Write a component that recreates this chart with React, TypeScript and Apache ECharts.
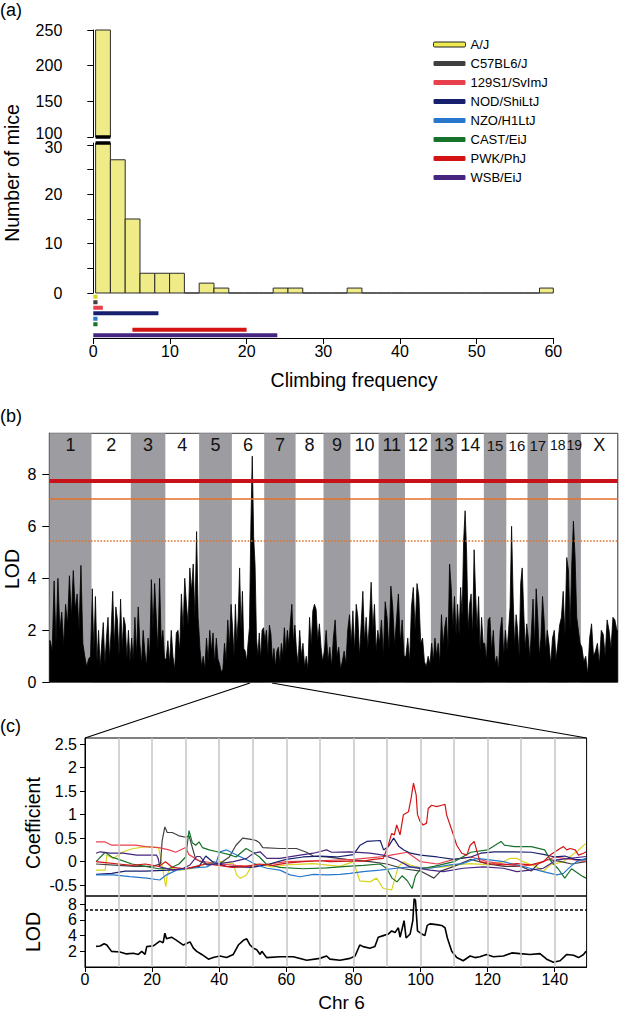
import React, { useEffect, useRef } from "react";
import * as echarts from "echarts";

const FONT = "'Liberation Sans', Arial, Helvetica, sans-serif";

// ---------- Panel (a) ----------
const strains = ["A/J", "C57BL6/J", "129S1/SvImJ", "NOD/ShiLtJ", "NZO/H1LtJ", "CAST/EiJ", "PWK/PhJ", "WSB/EiJ"];
const strainColors = ["#d9d51e", "#404040", "#e8414e", "#17206e", "#2777cc", "#17722b", "#d41414", "#46257f"];
const strainRangeMin = [0, 0, 0, 0, 0, 0, 5.1, 0];
const strainRangeMax = [0.55, 0.55, 1.25, 8.5, 0.55, 0.55, 20, 24];

const histFirstEdge = 0.3;
const histBinWidth = 1.93;
const histCounts = [250, 27, 15, 4, 4, 4, 0, 2, 1, 0, 0, 0, 1, 1, 0, 0, 0, 1, 0, 0, 0, 0, 0, 0, 0, 0, 0, 0, 0, 0, 1];
const climbTicks = [0, 10, 20, 30, 40, 50, 60];
const miceUpperTicks = [100, 150, 200, 250];
const miceLowerLabels = [0, 10, 20, 30];
const miceLowerTicks = [0, 5, 10, 15, 20, 25, 30];
const miceLowerMax = 30.4;

// ---------- Panel (b) ----------
const chrNames = ["1", "2", "3", "4", "5", "6", "7", "8", "9", "10", "11", "12", "13", "14", "15", "16", "17", "18", "19", "X"];
const chrLengths = [195.5, 182.1, 160.0, 156.5, 151.8, 149.7, 145.4, 129.4, 124.6, 130.7, 122.1, 120.1, 120.4, 124.9, 104.0, 98.2, 95.3, 90.7, 61.4, 171.0];
const lodByChr = [
  [1.6, 1.2, 3.9, 1.5, 4.0, 2.0, 2.7, 1.4, 3.0, 2.2, 4.1, 2.5, 4.3, 2.8, 3.4, 2.0, 4.5, 1.5, 1.0, 0.6, 0.9, 1.0],
  [3.6, 1.2, 3.3, 0.8, 2.0, 0.6, 1.5, 2.3, 0.7, 1.7, 2.5, 0.9, 2.0, 3.5, 1.4, 2.9, 2.4, 1.0, 3.2, 1.3, 2.5, 2.2, 0.9, 2.0, 0.8],
  [1.7, 0.8, 2.5, 1.0, 2.9, 1.5, 0.7, 2.0, 1.2, 0.6, 1.7, 1.0, 3.95, 2.0, 3.8, 2.5, 1.2, 4.0, 1.5, 2.0, 0.9],
  [0.9, 1.6, 0.7, 2.0, 1.0, 0.5, 1.9, 2.0, 1.2, 3.4, 2.0, 4.0, 3.0, 2.2, 4.4, 3.5, 4.55, 2.5, 5.8, 2.5],
  [1.3, 0.6, 1.0, 0.5, 1.7, 0.8, 2.0, 1.2, 1.9, 0.7, 1.7, 0.9, 0.7, 0.4, 0.5, 1.5, 0.8, 2.4, 1.3, 3.0],
  [2.1, 1.0, 3.0, 1.5, 2.5, 4.4, 2.0, 3.5, 1.3, 1.2, 0.8, 1.5, 2.1, 6.0, 8.7, 5.6, 4.5, 1.7, 1.0, 1.9, 0.9, 2.0, 2.1],
  [1.6, 2.0, 1.0, 2.2, 1.85, 0.8, 1.3, 0.6, 1.2, 1.35, 0.7, 1.5, 1.0, 2.1, 1.2, 2.0, 1.4, 2.3, 3.0, 1.5, 2.2],
  [1.3, 0.7, 2.0, 1.0, 1.5, 0.6, 1.0, 0.5, 2.5, 1.4, 2.75, 3.0, 2.8, 1.6, 2.25, 1.35, 0.8],
  [1.2, 2.0, 0.8, 1.35, 0.6, 1.7, 2.4, 1.0, 1.35, 0.5, 0.8, 1.2, 0.7, 2.0, 2.6],
  [1.5, 2.75, 1.2, 3.0, 2.5, 1.0, 2.25, 3.5, 1.6, 2.5, 1.3, 2.4, 3.85, 2.0, 3.0, 1.2, 2.0],
  [1.5, 2.4, 1.0, 3.1, 2.5, 1.2, 3.7, 2.9, 1.4, 2.4, 3.4, 1.5, 2.4, 1.0],
  [1.0, 1.7, 0.8, 2.9, 3.65, 2.0, 3.8, 3.3, 1.5, 1.7, 0.8, 0.6, 1.0, 0.7],
  [1.5, 0.8, 1.7, 1.0, 1.5, 0.7, 2.6, 1.4, 2.1, 2.5, 1.2, 4.55, 3.65, 2.0, 3.3, 1.8],
  [3.0, 1.8, 3.65, 2.5, 5.45, 6.6, 5.0, 2.0, 3.0, 3.4, 1.8, 5.1, 3.4, 2.0, 3.3, 1.2, 2.5, 1.5],
  [1.5, 0.8, 2.4, 2.5, 1.2, 2.0, 0.7, 1.0, 0.5, 2.0, 2.5, 1.0, 2.0],
  [1.2, 2.0, 2.9, 6.0, 3.3, 1.4, 2.6, 2.0, 1.0, 3.8, 4.4, 2.75, 1.3, 2.25],
  [1.7, 0.9, 2.0, 3.2, 1.4, 3.6, 2.5, 1.0, 1.7, 3.3, 2.4, 1.2, 2.0],
  [1.5, 0.7, 1.7, 2.0, 0.9, 1.5, 2.2, 2.5, 3.5, 1.8, 4.8],
  [4.3, 2.0, 4.55, 6.2, 4.8, 2.5, 2.0, 1.5],
  [1.35, 0.8, 1.0, 0.3, 1.7, 2.25, 1.0, 1.2, 1.5, 0.7, 2.0, 1.85, 1.0, 2.4, 2.0, 1.3, 2.5, 2.4, 2.0],
];
const genomeLodTicks = [0, 2, 4, 6, 8];
const genomeLodMax = 9.58;
const thresholdHigh = 7.74;
const thresholdMid = 7.06;
const thresholdLow = 5.45;

// ---------- Panel (c) ----------
const chr6Max = 149.5;
const chr6Ticks = [0, 20, 40, 60, 80, 100, 120, 140];
const chr6GridLines = [10, 20, 30, 40, 50, 60, 70, 80, 90, 100, 110, 120, 130, 140];
const coefTicks = [-0.5, 0, 0.5, 1, 1.5, 2, 2.5];
const chr6LodTicks = [2, 4, 6, 8];
const chr6LodLabelsA = [2, 6];
const chr6LodLabelsB = [4, 8];
const chr6LodMax = 9.05;
const chr6LodThreshold = 7.24;

const coefAJ = [[3.3,-0.18],[6,-0.18],[6.5,0.14],[8.4,0.07],[11.4,0.21],[14.4,0.28],[18.4,0.32],[21.9,0.3],[22.8,0.0],[23.8,-0.43],[24.1,-0.53],[24.5,-0.28],[25.3,-0.14],[28.3,-0.18],[32.3,-0.14],[36.3,-0.04],[40.2,0.0],[44.2,-0.04],[45.2,-0.28],[46.2,-0.35],[47.2,-0.32],[48.2,-0.28],[49.2,-0.14],[50.2,-0.04],[52.2,-0.07],[56.1,-0.11],[60.1,-0.07],[68.1,-0.04],[76,-0.1],[80,0.0],[81,-0.21],[81.9,-0.41],[84.9,-0.43],[86.9,-0.35],[88.9,-0.57],[91.4,-0.6],[92.4,-0.35],[93.4,-0.11],[94.9,0.0],[96.9,-0.07],[100.8,-0.14],[106.8,-0.11],[110.8,-0.07],[114.8,-0.04],[120.7,-0.07],[124.7,0.0],[126.7,0.07],[128.7,0.07],[130.6,0.0],[134.6,-0.11],[136.6,-0.21],[138.6,-0.07],[142.6,0.0],[146.5,0.21],[149.3,0.39]];
const coefC57 = [[3.3,-0.05],[10,-0.08],[15,-0.1],[20,-0.1],[22.5,-0.05],[23,0.45],[23.8,0.74],[24.5,0.62],[26,0.62],[28,0.55],[30,0.52],[31,0.55],[32,0.3],[33,0.05],[36,-0.05],[40,-0.05],[43,0.1],[45,0.35],[47,0.5],[49,0.48],[51,0.45],[52,0.4],[53,0.3],[58,0.28],[63,0.28],[66,0.2],[68,0.12],[72,0.1],[78,0.05],[85,0.0],[90,-0.05],[95,-0.15],[100,-0.2],[104,-0.35],[106,-0.2],[110,-0.1],[115,0.05],[120,-0.05],[125,-0.1],[130,-0.1],[133,-0.2],[135,-0.05],[138,0.05],[142,0.0],[145,-0.05],[149.3,0.0]];
const coef129 = [[3.3,0.42],[6,0.42],[8,0.35],[15,0.35],[18,0.32],[22,0.3],[25,0.25],[27,0.2],[30,0.3],[31,0.15],[34,0.02],[40,-0.05],[45,-0.08],[50,-0.1],[55,-0.05],[60,0.0],[70,0.02],[80,0.05],[88,0.1],[92,0.15],[96,0.2],[98,0.1],[100,0.0],[105,-0.05],[110,0.05],[115,0.1],[120,0.0],[125,-0.05],[130,-0.1],[135,-0.05],[140,0.1],[145,0.05],[149.3,0.0]];
const coefNOD = [[3.3,-0.27],[8,-0.25],[12,-0.2],[18,-0.2],[25,-0.18],[30,-0.15],[34,-0.1],[36,0.12],[38,0.0],[42,-0.1],[50,-0.12],[55,-0.05],[60,0.05],[65,0.1],[70,0.12],[75,0.1],[80,0.15],[82,0.35],[84,0.43],[88,0.45],[89,0.25],[90.5,0.33],[92,0.5],[93.5,0.33],[95,0.25],[97,0.18],[100,0.14],[105,0.1],[110,0.05],[115,0.1],[118,0.18],[122,0.21],[128,0.21],[133,0.2],[137,0.15],[140,0.1],[143,0.12],[146,0.05],[149.3,0.04]];
const coefNZO = [[3.3,-0.28],[8.4,-0.28],[13.4,-0.32],[18.4,-0.35],[22.3,-0.39],[24.3,-0.28],[27.3,-0.18],[31.3,-0.14],[36.3,-0.11],[39.2,0.0],[40.2,0.21],[42.2,0.25],[45.2,0.14],[48.2,0.04],[51.2,-0.07],[54.2,-0.14],[58.1,-0.18],[61.1,-0.28],[64.1,-0.32],[68.1,-0.27],[72,-0.28],[76,-0.27],[79,-0.25],[82.9,-0.21],[87.9,-0.18],[92.9,-0.14],[96.9,-0.11],[102.8,-0.14],[108.8,-0.07],[112.7,-0.04],[116.7,0.07],[120.7,0.04],[124.7,0.0],[128.7,-0.07],[132.6,-0.14],[136.6,-0.21],[140.6,-0.28],[142.6,-0.25],[144.6,-0.11],[146.5,0.0],[149.3,0.07]];
const coefCAST = [[3.3,0.0],[6,0.2],[8,0.1],[10,0.05],[14,-0.05],[18,-0.1],[22,-0.15],[25,-0.15],[28,-0.05],[30,0.1],[31,0.66],[32,0.4],[33,0.35],[34,0.42],[35,0.3],[37,0.25],[40,0.2],[43,0.15],[45,0.1],[48,0.28],[50,0.2],[52,0.1],[54,-0.05],[58,-0.12],[65,-0.15],[72,-0.13],[78,-0.1],[83,-0.08],[88,-0.05],[90,-0.15],[91.5,-0.35],[93,-0.43],[94.5,-0.3],[96,-0.4],[97.5,-0.57],[98.5,-0.3],[100,-0.15],[104,-0.1],[110,0.0],[115,0.2],[120,0.25],[124,0.43],[125,0.35],[128,0.32],[133,0.32],[137,0.25],[139,0.0],[141,-0.15],[143,-0.35],[145,-0.15],[148,-0.3],[149.3,-0.35]];
const coefPWK = [[3.3,0.0],[6,-0.02],[10,-0.05],[14,-0.08],[18,-0.05],[22,-0.1],[24,0.0],[26,-0.12],[30,-0.15],[33,-0.1],[36,-0.05],[40,-0.08],[44,-0.12],[48,-0.1],[52,-0.05],[56,-0.08],[60,-0.03],[65,0.0],[70,0.02],[73,0.0],[79,0.01],[82.9,0.01],[86,0.05],[88.9,0.07],[90.4,0.35],[91.4,0.6],[92.2,0.57],[92.9,0.78],[93.9,0.57],[94.9,1.0],[96.4,1.06],[97.2,1.35],[97.9,1.67],[98.7,1.42],[99.1,1.0],[99.9,0.85],[100.8,0.78],[101.8,0.82],[102.3,1.13],[103.3,1.2],[104.8,1.17],[106.3,1.2],[107.3,1.22],[107.8,0.99],[108.8,0.78],[109.8,0.57],[110.8,0.35],[112.3,0.18],[113.8,0.14],[114.8,0.35],[116.0,0.43],[116.7,0.25],[117.7,0.0],[120.7,-0.04],[124.7,-0.07],[128.7,-0.04],[132.6,-0.07],[136.6,0.0],[138.6,0.14],[141.6,0.28],[142.6,0.32],[143.6,0.25],[144.6,0.28],[146.1,0.25],[147.1,0.14],[148.6,0.18],[149.3,0.21]];
const coefWSB = [[3.3,0.18],[4.5,0.21],[7.4,0.18],[11.4,0.18],[15.4,0.14],[18.4,0.14],[21.3,0.14],[21.8,0.07],[22.3,-0.11],[26.3,-0.18],[29.3,-0.14],[31.3,-0.07],[33.3,0.11],[34.3,0.11],[36.3,-0.07],[40.2,-0.04],[44.2,0.0],[48.2,0.07],[50.2,0.18],[52.2,0.21],[54.2,0.07],[58.1,0.07],[64.1,0.14],[68.1,0.18],[72,0.25],[73.5,0.2],[79,0.21],[84.9,0.18],[88.9,0.14],[92.9,0.04],[96.9,-0.11],[102.8,-0.18],[106.8,-0.21],[112.7,-0.14],[118.7,-0.11],[124.7,-0.14],[128.7,-0.21],[132.6,-0.18],[136.6,-0.14],[140.6,0.04],[144.6,0.07],[149.3,0.11]];
const coefByStrain = [coefAJ, coefC57, coef129, coefNOD, coefNZO, coefCAST, coefPWK, coefWSB];

const lodChr6 = [[3.3,2.63],[4.5,2.67],[5.7,2.97],[6.5,2.8],[7.9,1.99],[10.4,1.92],[12.4,1.67],[14.4,1.75],[15.9,1.6],[16.9,2.0],[17.9,1.6],[18.4,2.6],[20.4,2.7],[22.3,3.3],[23.3,3.1],[23.8,4.3],[24.3,3.6],[25.8,3.8],[27.3,3.4],[29.3,2.8],[30.3,3.0],[31.3,3.2],[32.3,2.4],[33.3,2.0],[34.8,1.6],[36.8,1.0],[38.2,1.2],[40.2,1.4],[42.2,1.2],[44.2,1.6],[45.7,2.8],[47.2,3.4],[48.2,3.6],[49.2,2.8],[50.2,2.4],[51.2,2.2],[52.2,1.6],[52.7,2.0],[54.1,1.2],[58.1,1.3],[62.1,1.3],[66.1,0.86],[70.0,1.1],[72.0,1.4],[73.0,1.0],[76.0,0.86],[79.0,1.1],[80.5,1.4],[81.9,2.8],[82.9,2.6],[84.9,2.4],[86.4,2.6],[87.4,3.8],[88.9,4.0],[90.4,4.2],[91.4,4.6],[92.4,4.4],[93.4,5.0],[93.9,3.8],[95.1,5.9],[95.7,3.7],[96.9,4.2],[97.7,5.9],[98.1,8.7],[98.5,8.5],[99.1,4.6],[100.4,4.2],[101.3,4.0],[102.0,5.3],[102.8,5.5],[104.8,5.4],[106.3,5.3],[107.3,5.0],[108.0,3.7],[109.3,2.0],[110.8,1.2],[112.7,0.8],[114.8,1.4],[116.2,1.2],[117.7,1.3],[119.7,1.6],[121.7,1.3],[124.7,1.4],[127.2,1.8],[129.6,1.7],[132.6,1.6],[135.6,1.7],[137.6,1.0],[139.6,0.6],[141.6,0.8],[143.6,1.6],[145.6,1.5],[147.1,1.2],[148.6,1.6],[149.3,2.0]];

function buildOption() {
  const histData = histCounts.map((c, i) => [histFirstEdge + i * histBinWidth, histFirstEdge + (i + 1) * histBinWidth, c]);
  const histRender = (params: any, api: any) => {
    const p0 = api.coord([api.value(0), api.value(2)]);
    const p1 = api.coord([api.value(1), 0]);
    const cs = params.coordSys;
    const rect = echarts.graphic.clipRectByRect(
      { x: p0[0], y: p0[1], width: p1[0] - p0[0], height: p1[1] - p0[1] },
      { x: cs.x, y: cs.y, width: cs.width, height: cs.height }
    );
    if (!rect) return null;
    return { type: "rect", shape: rect, style: { fill: "#efeb87", stroke: "#2b2b2b", lineWidth: 1 } };
  };

  const chrStarts: number[] = [];
  let acc = 0;
  chrLengths.forEach((l) => { chrStarts.push(acc); acc += l; });
  const genomeTotal = acc;
  const lodPoints: number[][] = [[0, lodByChr[0][0]]];
  lodByChr.forEach((vals, i) => {
    vals.forEach((v, j) => lodPoints.push([chrStarts[i] + ((j + 0.5) * chrLengths[i]) / vals.length, v]));
  });
  const lastChr = lodByChr[lodByChr.length - 1];
  lodPoints.push([genomeTotal, lastChr[lastChr.length - 1]]);
  const bandData = chrNames.map((_, i) => [chrStarts[i], chrStarts[i] + chrLengths[i], i]);

  const bandRender = (params: any, api: any) => {
    const idx = api.value(2);
    const cs = params.coordSys;
    const pS = api.coord([api.value(0), 0]);
    const pE = api.coord([api.value(1), 0]);
    const children: any[] = [];
    if (idx % 2 === 0) {
      children.push({ type: "rect", shape: { x: pS[0], y: cs.y, width: pE[0] - pS[0], height: cs.height }, style: { fill: "#9d9ca0" } });
    }
    const fs = idx >= 14 && idx <= 16 ? 15 : idx >= 17 && idx <= 18 ? 14 : 18;
    children.push({
      type: "text",
      style: {
        text: chrNames[idx], x: (pS[0] + pE[0]) / 2, y: cs.y + 12, align: "center", verticalAlign: "middle",
        fontSize: fs, fill: "#111", fontFamily: FONT,
      },
    });
    return { type: "group", children };
  };

  const axisCommon = { axisLine: { show: true, lineStyle: { color: "#000", width: 1 } }, splitLine: { show: false } };
  const labelStyle = { color: "#000", fontSize: 16, fontFamily: FONT, hideOverlap: false, lineHeight: 13 };

  const grids = [
    { left: 93.3, top: 30, width: 460, height: 107 },
    { left: 93.3, top: 143, width: 460, height: 150 },
    { left: 93.3, top: 294, width: 460, height: 44 },
    { left: 49.3, top: 433.3, width: 568.5, height: 249, show: true, borderColor: "#333", borderWidth: 1 },
    { left: 85, top: 738, width: 501.6, height: 158, show: true, borderColor: "#000", borderWidth: 1 },
    { left: 85, top: 896, width: 501.6, height: 71, show: true, borderColor: "#000", borderWidth: 1 },
  ];

  const xAxes: any[] = [
    { gridIndex: 0, type: "value", min: 0, max: 60, show: false },
    { gridIndex: 1, type: "value", min: 0, max: 60, show: false },
    {
      gridIndex: 2, type: "value", min: 0, max: 60, ...axisCommon,
      axisTick: { show: true, length: 6, lineStyle: { color: "#000" }, customValues: climbTicks },
      axisLabel: { ...labelStyle, margin: 7, customValues: climbTicks },
    },
    { gridIndex: 3, type: "value", min: 0, max: genomeTotal, show: false },
    { gridIndex: 4, type: "value", min: 0, max: chr6Max, show: false },
    {
      gridIndex: 5, type: "value", min: 0, max: chr6Max, ...axisCommon,
      axisTick: { show: true, length: 5, lineStyle: { color: "#000" }, customValues: chr6Ticks },
      axisLabel: { ...labelStyle, margin: 6, customValues: chr6Ticks },
    },
  ];

  const yAxes: any[] = [
    {
      gridIndex: 0, type: "value", min: 100, max: 250, offset: 16, ...axisCommon,
      axisTick: { show: true, length: 6, lineStyle: { color: "#000" }, customValues: miceUpperTicks },
      axisLabel: {
        ...labelStyle, margin: 15, customValues: miceUpperTicks,
        formatter: (v: number) => (v === 100 ? "{lo|100}" : String(v)),
        rich: { lo: { fontSize: 16, fontFamily: FONT, color: "#000", padding: [0, 0, 8, 0] } },
      },
    },
    {
      gridIndex: 1, type: "value", min: 0, max: miceLowerMax, offset: 16, ...axisCommon,
      axisTick: { show: true, length: 6, lineStyle: { color: "#000" }, customValues: miceLowerTicks },
      axisLabel: {
        ...labelStyle, margin: 15, customValues: miceLowerLabels,
        formatter: (v: number) => (v === 30 ? "{hi|30}" : String(v)),
        rich: { hi: { fontSize: 16, fontFamily: FONT, color: "#000", padding: [6, 0, 0, 0] } },
      },
    },
    { gridIndex: 2, type: "category", data: strains, inverse: true, show: false, boundaryGap: true },
    {
      gridIndex: 3, type: "value", min: 0, max: genomeLodMax, ...axisCommon,
      axisTick: { show: true, length: 7, lineStyle: { color: "#000" }, customValues: genomeLodTicks },
      axisLabel: { ...labelStyle, margin: 13, customValues: genomeLodTicks },
    },
    {
      gridIndex: 4, type: "value", min: -0.73, max: 2.63, ...axisCommon,
      axisTick: { show: true, length: 5, lineStyle: { color: "#000" }, customValues: coefTicks },
      axisLabel: { ...labelStyle, margin: 8, customValues: coefTicks },
    },
    {
      gridIndex: 5, type: "value", min: 0, max: chr6LodMax, position: "left", ...axisCommon,
      axisTick: { show: true, length: 5, lineStyle: { color: "#000" }, customValues: chr6LodTicks },
      axisLabel: { ...labelStyle, margin: 8, customValues: chr6LodLabelsA },
    },
    {
      gridIndex: 5, type: "value", min: 0, max: chr6LodMax, position: "left", offset: 0, ...axisCommon,
      axisTick: { show: false },
      axisLabel: { ...labelStyle, margin: 8, customValues: chr6LodLabelsB },
    },
  ];

  const series: any[] = [
    { type: "custom", xAxisIndex: 0, yAxisIndex: 0, data: histData, renderItem: histRender, z: 2 },
    { type: "custom", xAxisIndex: 1, yAxisIndex: 1, data: histData, renderItem: histRender, z: 2 },
    {
      type: "line", xAxisIndex: 0, yAxisIndex: 0, clip: false, symbol: "none", z: 4,
      data: [[histData[0][0], 100], [histData[0][1], 100]], lineStyle: { color: "#000", width: 3.5 },
    },
    {
      type: "line", xAxisIndex: 1, yAxisIndex: 1, clip: false, symbol: "none", z: 4,
      data: [[histData[0][0], miceLowerMax], [histData[0][1], miceLowerMax]], lineStyle: { color: "#000", width: 3.5 },
    },
  ];

  strains.forEach((name, i) => {
    series.push({
      type: "line", name, xAxisIndex: 2, yAxisIndex: 2, symbol: "none", color: strainColors[i],
      data: [[strainRangeMin[i], name], [strainRangeMax[i], name]],
      lineStyle: { width: 4, color: strainColors[i], cap: "butt" },
    });
  });

  series.push({ type: "custom", xAxisIndex: 3, yAxisIndex: 3, data: bandData, renderItem: bandRender, z: 1, silent: true });
  series.push({
    type: "line", xAxisIndex: 3, yAxisIndex: 3, symbol: "none", z: 3, data: lodPoints,
    lineStyle: { color: "#000", width: 0.8 }, areaStyle: { color: "#000", opacity: 1 },
    markLine: {
      symbol: ["none", "none"], silent: true, label: { show: false },
      data: [
        { yAxis: thresholdHigh, lineStyle: { color: "#c8121a", width: 4, type: "solid" } },
        { yAxis: thresholdMid, lineStyle: { color: "#e5712a", width: 1.6, type: "solid" } },
        { yAxis: thresholdLow, lineStyle: { color: "#e0742a", width: 1.6, type: "dotted" } },
      ],
    },
  });

  [4, 5].forEach((gi) => {
    series.push({
      type: "line", xAxisIndex: gi, yAxisIndex: gi, symbol: "none", z: 1, data: [[0, gi === 4 ? 0 : 1]],
      lineStyle: { opacity: 0 },
      markLine: {
        symbol: ["none", "none"], silent: true, label: { show: false },
        lineStyle: { color: "#c6c6c6", width: 1.5, type: "solid" },
        data: chr6GridLines.map((v) => ({ xAxis: v })),
      },
    });
  });

  strains.forEach((name, i) => {
    series.push({
      type: "line", name, xAxisIndex: 4, yAxisIndex: 4, symbol: "none", z: 3, color: strainColors[i],
      data: coefByStrain[i], lineStyle: { width: 1.2, color: strainColors[i] },
    });
  });

  series.push({
    type: "line", xAxisIndex: 5, yAxisIndex: 5, symbol: "none", z: 3, data: lodChr6,
    lineStyle: { width: 1.6, color: "#000" },
    markLine: {
      symbol: ["none", "none"], silent: true, label: { show: false },
      data: [{ yAxis: chr6LodThreshold, lineStyle: { color: "#000", width: 1.6, type: [3, 2] } }],
    },
  });
  series.push({ type: "line", xAxisIndex: 5, yAxisIndex: 6, symbol: "none", data: [], lineStyle: { opacity: 0 } });

  const txt = (text: string, x: number, y: number, fontSize: number, rotate = false, align = "center") => ({
    type: "text", x, y, rotation: rotate ? Math.PI / 2 : 0,
    style: { text, x: 0, y: 0, align, verticalAlign: "middle", fontSize, fill: "#000", fontFamily: FONT },
  });

  const graphic: any[] = [
    txt("(a)", 0, 10, 18, false, "left"),
    txt("Number of mice", 12, 173, 19.5, true),
    txt("Climbing frequency", 354, 380, 19.5),
    txt("(b)", 0, 416, 18, false, "left"),
    txt("LOD", 12, 569, 19.5, true),
    txt("(c)", 0, 726, 18, false, "left"),
    txt("Coefficient", 33, 823, 19.5, true),
    txt("LOD", 33, 932, 19.5, true),
    txt("Chr 6", 341.5, 1002, 19),
    { type: "line", shape: { x1: 250, y1: 683, x2: 85, y2: 738 }, style: { stroke: "#000", lineWidth: 1.2 } },
    { type: "line", shape: { x1: 272, y1: 683, x2: 586.6, y2: 738 }, style: { stroke: "#000", lineWidth: 1.2 } },
  ];

  return {
    animation: false,
    backgroundColor: "#fff",
    textStyle: { fontFamily: FONT },
    grid: grids,
    xAxis: xAxes,
    yAxis: yAxes,
    legend: {
      orient: "vertical", left: 433, top: 38, padding: 0, icon: "roundRect", itemWidth: 32, itemHeight: 5, itemGap: 6,
      selectedMode: false,
      textStyle: { fontSize: 13, color: "#000", lineHeight: 13, fontFamily: FONT },
      data: strains.map((name) =>
        name === "A/J"
          ? { name, itemStyle: { color: "#eeea50", borderColor: "#222", borderWidth: 1 } }
          : { name }
      ),
    },
    series,
    graphic,
  };
}

export default function App() {
  const ref = useRef<HTMLDivElement>(null);
  useEffect(() => {
    document.body.style.margin = "0";
    const chart = echarts.init(ref.current!, null, { renderer: "svg" });
    chart.setOption(buildOption() as any);
    return () => chart.dispose();
  }, []);
  return <div ref={ref} style={{ width: 619, height: 1013 }} />;
}
